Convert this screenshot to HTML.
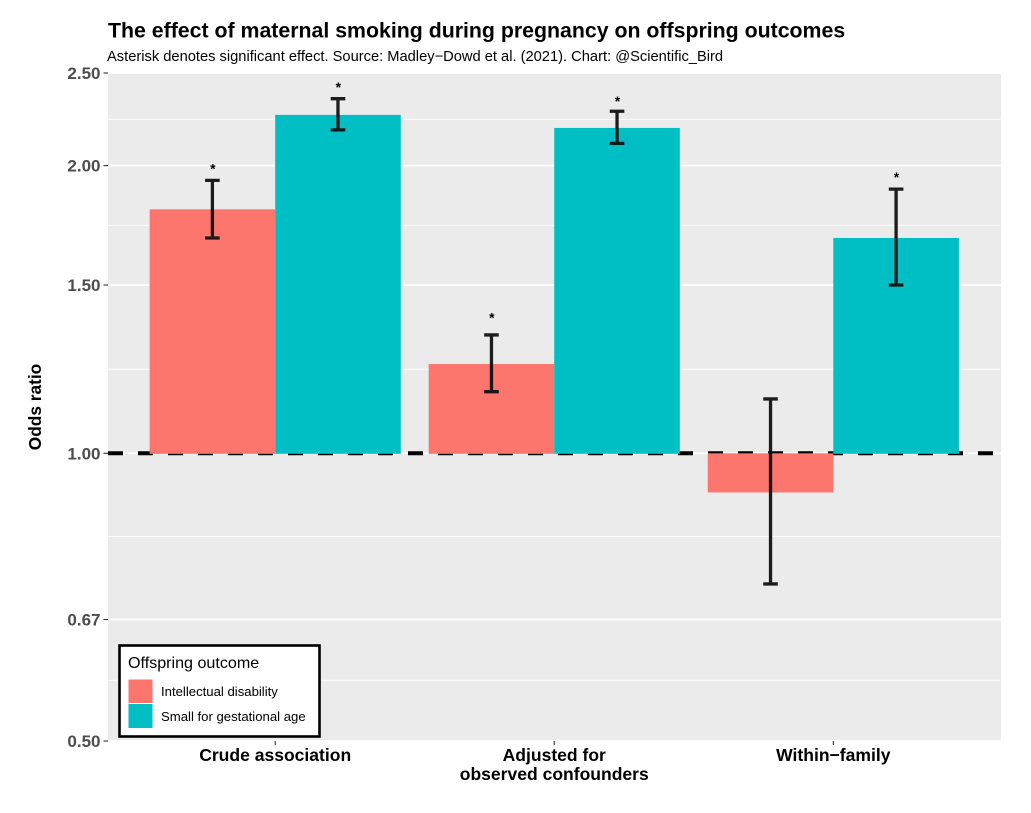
<!DOCTYPE html>
<html lang="en">
<head>
<meta charset="utf-8">
<title>The effect of maternal smoking during pregnancy on offspring outcomes</title>
<style>
html,body{margin:0;padding:0;background:#fff;}
svg{display:block;font-family:"Liberation Sans",sans-serif;}
</style>
</head>
<body>
<svg id="chart" xmlns="http://www.w3.org/2000/svg" width="1031" height="813" viewBox="0 0 1031 813">
  <rect x="0" y="0" width="1031" height="813" fill="#ffffff"/>
  <text x="108" y="37.5" font-size="21.3" font-weight="700" fill="#000">The effect of maternal smoking during pregnancy on offspring outcomes</text>
  <text x="107" y="61" font-size="14.68" fill="#000">Asterisk denotes significant effect. Source: Madley−Dowd et al. (2021). Chart: @Scientific_Bird</text>
  <rect x="108" y="73" width="893" height="668" fill="#ebebeb"/>
  <g id="grid"></g>
  <g id="refline"></g>
  <g id="bars"></g>
  <g id="errors"></g>
  <g id="stars"></g>
  <g id="yaxis"></g>
  <g id="xaxis"></g>
  <text transform="translate(41,407) rotate(-90)" text-anchor="middle" font-size="17.3" font-weight="700" fill="#000">Odds ratio</text>
  <g>
    <rect x="119.5" y="645.5" width="200" height="91" fill="#fff" stroke="#000" stroke-width="2.6"/>
    <text x="128" y="668" font-size="16.1" fill="#000">Offspring outcome</text>
    <rect x="128.5" y="679.5" width="24" height="23.5" fill="#FC766E"/>
    <rect x="128.5" y="704" width="24" height="24" fill="#00BFC4"/>
    <text x="161" y="696" font-size="13.15" fill="#000">Intellectual disability</text>
    <text x="161" y="721" font-size="13.15" fill="#000">Small for gestational age</text>
  </g>
</svg>
<script>
const categories = [["Crude association"], ["Adjusted for", "observed confounders"], ["Within−family"]];
const seriesNames = ["Intellectual disability", "Small for gestational age"];
const seriesColors = ["#FC766E", "#00BFC4"];
const oddsIntellectual = [1.80, 1.24, 0.91];
const oddsSmall = [2.26, 2.19, 1.68];
const lowerIntellectual = [1.68, 1.16, 0.73];
const upperIntellectual = [1.93, 1.33, 1.14];
const lowerSmall = [2.18, 2.11, 1.50];
const upperSmall = [2.35, 2.28, 1.89];
const starHeightIntellectual = [1.99, 1.39, null];
const starHeightSmall = [2.42, 2.34, 1.95];
const majorTicks = [0.5, 0.67, 1, 1.5, 2, 2.5];
const tickLabels = ["0.50", "0.67", "1.00", "1.50", "2.00", "2.50"];

const NS = "http://www.w3.org/2000/svg";
const panel = {left: 108, right: 1001, top: 73, bottom: 741};
const yMin = 0.5, yMax = 2.5;
function y(v) {
  return panel.bottom - (Math.log(v) - Math.log(yMin)) / (Math.log(yMax) - Math.log(yMin)) * (panel.bottom - panel.top);
}
const xUnit = (panel.right - panel.left) / (categories.length + 0.2);
function xCenter(i) {
  return panel.left + (i + 0.6) * xUnit - 0.25;
}
const barW = xUnit * 0.45;
function xBar(i, s) {
  return xCenter(i) + (s - 1) * barW;
}
function make(parent, tag, attrs) {
  const el = document.createElementNS(NS, tag);
  for (const k in attrs) el.setAttribute(k, attrs[k]);
  parent.appendChild(el);
  return el;
}

const grid = document.getElementById("grid");
majorTicks.forEach(function (t, i) {
  const major = make(grid, "line", {x1: panel.left, x2: panel.right, y1: y(t), y2: y(t), stroke: "#fff", "stroke-width": 1.7});
  
  
  if (i < majorTicks.length - 1) {
    const m = Math.sqrt(t * majorTicks[i + 1]);
    const minor = make(grid, "line", {x1: panel.left, x2: panel.right, y1: y(m), y2: y(m), stroke: "#fff", "stroke-width": 0.9});
    
    
  }
});

const refline = document.getElementById("refline");
const ref = make(refline, "line", {x1: panel.left, x2: 994, y1: y(1), y2: y(1), stroke: "#000", "stroke-width": 4, "stroke-dasharray": "15 15"});



const bars = document.getElementById("bars");
const errors = document.getElementById("errors");
const stars = document.getElementById("stars");
const odds = [oddsIntellectual, oddsSmall];
const lowers = [lowerIntellectual, lowerSmall];
const uppers = [upperIntellectual, upperSmall];
const starHeights = [starHeightIntellectual, starHeightSmall];
categories.forEach(function (c, i) {
  [0, 1].forEach(function (s) {
    const v = odds[s][i];
    const x0 = xBar(i, s);
    const top = Math.min(y(v), y(1));
    const h = Math.abs(y(v) - y(1)) + (v >= 1 ? 0.5 : 0);
    const bar = make(bars, "rect", {x: x0, y: top, width: barW, height: h, fill: seriesColors[s]});
    
    
    const ex = x0 + barW / 2;
    const yl = y(lowers[s][i]), yu = y(uppers[s][i]);
    const eb = make(errors, "path", {
      d: "M" + (ex - 7.3) + " " + yu + "H" + (ex + 7.3) + "M" + ex + " " + yu + "V" + yl + "M" + (ex - 7.3) + " " + yl + "H" + (ex + 7.3),
      fill: "none", stroke: "#111", "stroke-width": 3.3, "stroke-opacity": 0.95
    });
    
    
    const sh = starHeights[s][i];
    if (sh !== null) {
      const st = make(stars, "text", {x: ex + 0.4, y: y(sh) + 5.7, "text-anchor": "middle", "font-size": 14, "font-weight": 700, fill: "#000"});
      st.textContent = "*";
      
      
    }
  });
});

const yaxis = document.getElementById("yaxis");
majorTicks.forEach(function (t, i) {
  const tick = make(yaxis, "line", {x1: 103.5, x2: panel.left, y1: y(t), y2: y(t), stroke: "#333", "stroke-width": 1.1});
  
  
  const lab = make(yaxis, "text", {x: 100.5, y: y(t) + 6, "text-anchor": "end", "font-size": 17, "font-weight": 700, fill: "#4d4d4d"});
  lab.textContent = tickLabels[i];
  
  
});

const xaxis = document.getElementById("xaxis");
categories.forEach(function (lines, i) {
  const cx = xCenter(i);
  const tick = make(xaxis, "line", {x1: cx, x2: cx, y1: panel.bottom, y2: panel.bottom + 4, stroke: "#333", "stroke-width": 1.1});
  
  
  lines.forEach(function (line, j) {
    const lab = make(xaxis, "text", {x: cx, y: 761 + j * 19, "text-anchor": "middle", "font-size": 17.55, "font-weight": 700, fill: "#000"});
    lab.textContent = line;
    
    
  });
});
</script>
</body>
</html>
